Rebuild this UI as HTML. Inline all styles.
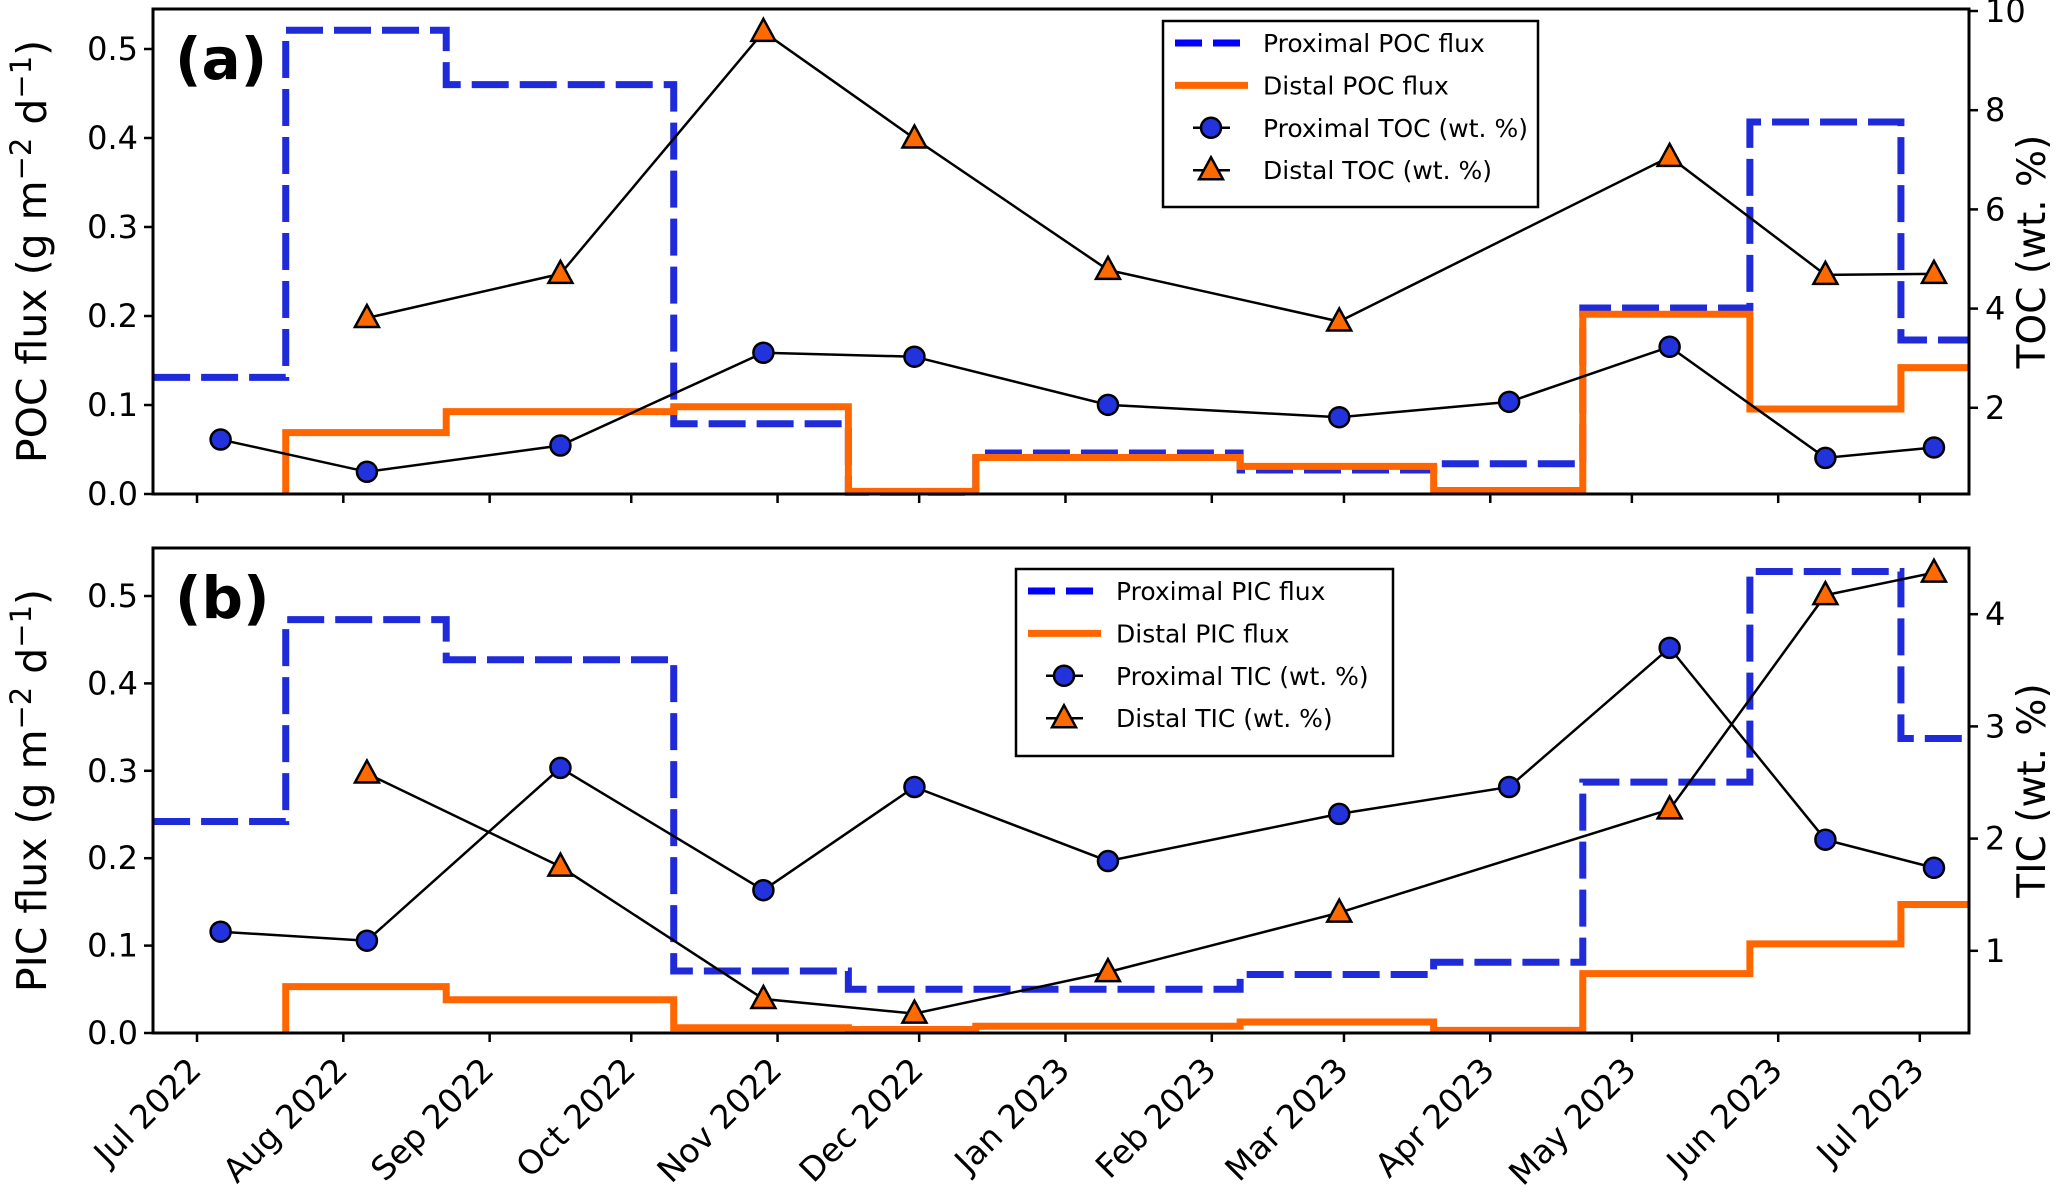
<!DOCTYPE html>
<html><head><meta charset="utf-8"><style>
html,body{margin:0;padding:0;background:#fff;}
svg{display:block;font-family:"DejaVu Sans","Liberation Sans",sans-serif;}
</style></head><body>
<svg id="chart" width="2067" height="1194" viewBox="0 0 2067 1194" xmlns="http://www.w3.org/2000/svg"></svg>
<script>
// ---- data (days since 1 Jul 2022) ----
const monthLabels = ["Jul 2022","Aug 2022","Sep 2022","Oct 2022","Nov 2022","Dec 2022","Jan 2023","Feb 2023","Mar 2023","Apr 2023","May 2023","Jun 2023","Jul 2023"];
const monthDays = [0,31,62,92,123,153,184,215,243,274,304,335,365];
const stepEdges = [-9.3,18.8,52.8,101,138,165,221,262,293.6,329,361,375.4];
const proxPOC = [0.131,0.521,0.460,0.079,0.002,0.046,0.027,0.034,0.209,0.418,0.173];
const distPOC = [null,0.069,0.0925,0.098,0.003,0.041,0.031,0.004,0.202,0.0955,0.142];
const proxPIC = [0.242,0.473,0.427,0.071,0.050,0.050,0.067,0.081,0.287,0.528,0.337];
const distPIC = [null,0.053,0.038,0.006,0.004,0.0077,0.0126,0.003,0.068,0.102,0.147];
const proxDays = [5,36,77,120,152,193,242,278,312,345,368];
const distDays = [36,77,120,152,193,242,312,345,368];
const proxTOC = [1.36,0.71,1.24,3.11,3.03,2.06,1.81,2.12,3.23,0.99,1.20];
const distTOC = [3.81,4.70,9.58,7.43,4.78,3.74,7.06,4.68,4.70];
const proxTIC = [1.17,1.09,2.63,1.54,2.46,1.80,2.22,2.46,3.70,1.99,1.74];
const distTIC = [2.58,1.75,0.57,0.44,0.81,1.34,2.26,4.17,4.37];
const fluxTicks = [0.0,0.1,0.2,0.3,0.4,0.5];
const tocTicks = [2,4,6,8,10];
const ticTicks = [1,2,3,4];

const NS="http://www.w3.org/2000/svg";
const svg=document.getElementById('chart');
function el(tag,attrs,parent){const e=document.createElementNS(NS,tag);for(const k in attrs)e.setAttribute(k,attrs[k]);(parent||svg).appendChild(e);return e;}
const X0=153,X1=1969;
const xs=d=>197+d*4.72;
const BLUE="#1f2ad8", ORANGE="#ff6600";

function panel(cfg){
  const g=el('g',{});
  
  
  const yL=v=>cfg.y0-(v)*(cfg.y0-cfg.y5)/0.5;
  const yR=v=>cfg.r0-(v)*cfg.rUnit;
  function stepPath(vals,startFromZero){
    let d="";
    for(let i=0;i<vals.length;i++){
      if(vals[i]===null)continue;
      const xa=xs(stepEdges[i]),xb=xs(stepEdges[i+1]);
      if(d===""){d=startFromZero?`M${xa},${yL(0)} L${xa},${yL(vals[i])}`:`M${xa},${yL(vals[i])}`;}
      else d+=` L${xa},${yL(vals[i])}`;
      d+=` L${xb},${yL(vals[i])}`;
    }
    return d;
  }
  const pb=el('path',{d:stepPath(cfg.prox,false),fill:'none',stroke:BLUE,'stroke-width':7,'stroke-dasharray':'37 11'},g);
  
  
  const po=el('path',{d:stepPath(cfg.dist,true),fill:'none',stroke:ORANGE,'stroke-width':7},g);
  
  
  const lp=el('polyline',{points:proxDays.map((d,i)=>xs(d)+','+yR(cfg.pw[i])).join(' '),fill:'none',stroke:'#000','stroke-width':2.5},g);
  
  
  const ld=el('polyline',{points:distDays.map((d,i)=>xs(d)+','+yR(cfg.dw[i])).join(' '),fill:'none',stroke:'#000','stroke-width':2.5},g);
  
  
  proxDays.forEach((d,i)=>{
    const c=el('circle',{cx:xs(d),cy:yR(cfg.pw[i]),r:10,fill:'#2233dd',stroke:'#000','stroke-width':2.5},g);
    
    
  });
  distDays.forEach((d,i)=>{
    const x=xs(d),y=yR(cfg.dw[i]);
    const t=el('polygon',{points:`${x},${y-13} ${x-12},${y+9} ${x+12},${y+9}`,fill:'#ff6a00',stroke:'#000','stroke-width':2.5},g);
    
    
  });
  const fr=el('rect',{x:X0,y:cfg.top,width:X1-X0,height:cfg.y0-cfg.top,fill:'none',stroke:'#000','stroke-width':3},g);
  
  
  fluxTicks.forEach(v=>{
    el('line',{x1:X0-9,x2:X0,y1:yL(v),y2:yL(v),stroke:'#000','stroke-width':2.5},g);
    const t=el('text',{x:X0-15,y:yL(v)+11,'text-anchor':'end','font-size':32},g);
    t.textContent=v.toFixed(1);
    
    
  });
  cfg.rTicks.forEach(v=>{
    el('line',{x1:X1,x2:X1+9,y1:yR(v),y2:yR(v),stroke:'#000','stroke-width':2.5},g);
    const t=el('text',{x:X1+16,y:yR(v)+11,'font-size':32},g);
    t.textContent=v;
    
    
  });
  monthDays.forEach(d=>el('line',{x1:xs(d),x2:xs(d),y1:cfg.y0,y2:cfg.y0+9,stroke:'#000','stroke-width':2.5},g));
  const yl=el('text',{transform:`translate(46,${(cfg.top+cfg.y0)/2}) rotate(-90)`,'text-anchor':'middle','font-size':41},g);
  yl.innerHTML=cfg.leftTitle+' (g m<tspan dy="-15" font-size="29">−2</tspan><tspan dy="15"> d</tspan><tspan dy="-15" font-size="29">−1</tspan><tspan dy="15">)</tspan>';
  
  
  const yr=el('text',{transform:`translate(2045,${(cfg.top+cfg.y0)/2}) rotate(-90)`,'text-anchor':'middle','font-size':39},g);
  yr.textContent=cfg.rightTitle;
  
  
  const pl=el('text',{x:175,y:cfg.top+70,'font-size':58,'font-weight':'bold'},g);
  pl.textContent=cfg.label;
  
  
  const L=cfg.leg;
  const lg=el('g',{},g);
  
  
  el('rect',{x:L.x,y:L.y,width:L.w,height:L.h,fill:'#fff',stroke:'#000','stroke-width':2.5},lg);
  const hx=L.x+12, tx=L.x+100;
  cfg.legNames.forEach((nm,i)=>{
    const cy=L.y+22+i*42.4;
    if(i===0)el('line',{x1:hx,x2:hx+73,y1:cy,y2:cy,stroke:'#0000ff','stroke-width':7,'stroke-dasharray':'27 11'},lg);
    if(i===1)el('line',{x1:hx,x2:hx+73,y1:cy,y2:cy,stroke:ORANGE,'stroke-width':7},lg);
    if(i===2){el('line',{x1:hx+18,x2:hx+55,y1:cy,y2:cy,stroke:'#000','stroke-width':2.5},lg);el('circle',{cx:hx+36,cy:cy,r:10,fill:'#2233dd',stroke:'#000','stroke-width':2.5},lg);}
    if(i===3){el('line',{x1:hx+18,x2:hx+55,y1:cy,y2:cy,stroke:'#000','stroke-width':2.5},lg);el('polygon',{points:`${hx+36},${cy-13} ${hx+24},${cy+9} ${hx+48},${cy+9}`,fill:'#ff6a00',stroke:'#000','stroke-width':2.5},lg);}
    const t=el('text',{x:tx,y:cy+9,'font-size':25},lg);
    t.textContent=nm;
    
    
  });
}

panel({name:'panel-a',top:9,y0:494,y5:49,r0:507,rUnit:49.6,prox:proxPOC,dist:distPOC,pw:proxTOC,dw:distTOC,rTicks:tocTicks,
  proxName:'proximal-poc-flux',distName:'distal-poc-flux',leftTitle:'POC flux',rightTitle:'TOC (wt. %)',label:'(a)',
  leg:{x:1163,y:21,w:375,h:186},legNames:['Proximal POC flux','Distal POC flux','Proximal TOC (wt. %)','Distal TOC (wt. %)']});
panel({name:'panel-b',top:548,y0:1033,y5:596,r0:1063,rUnit:112.2,prox:proxPIC,dist:distPIC,pw:proxTIC,dw:distTIC,rTicks:ticTicks,
  proxName:'proximal-pic-flux',distName:'distal-pic-flux',leftTitle:'PIC flux',rightTitle:'TIC (wt. %)',label:'(b)',
  leg:{x:1016,y:569,w:377,h:187},legNames:['Proximal PIC flux','Distal PIC flux','Proximal TIC (wt. %)','Distal TIC (wt. %)']});

monthDays.forEach((d,i)=>{
  const x=xs(d)+6, y=1072;
  const t=el('text',{transform:`translate(${x},${y}) rotate(-45)`,'text-anchor':'end','font-size':33});
  t.textContent=monthLabels[i];
  
  
});
</script>
</body></html>
